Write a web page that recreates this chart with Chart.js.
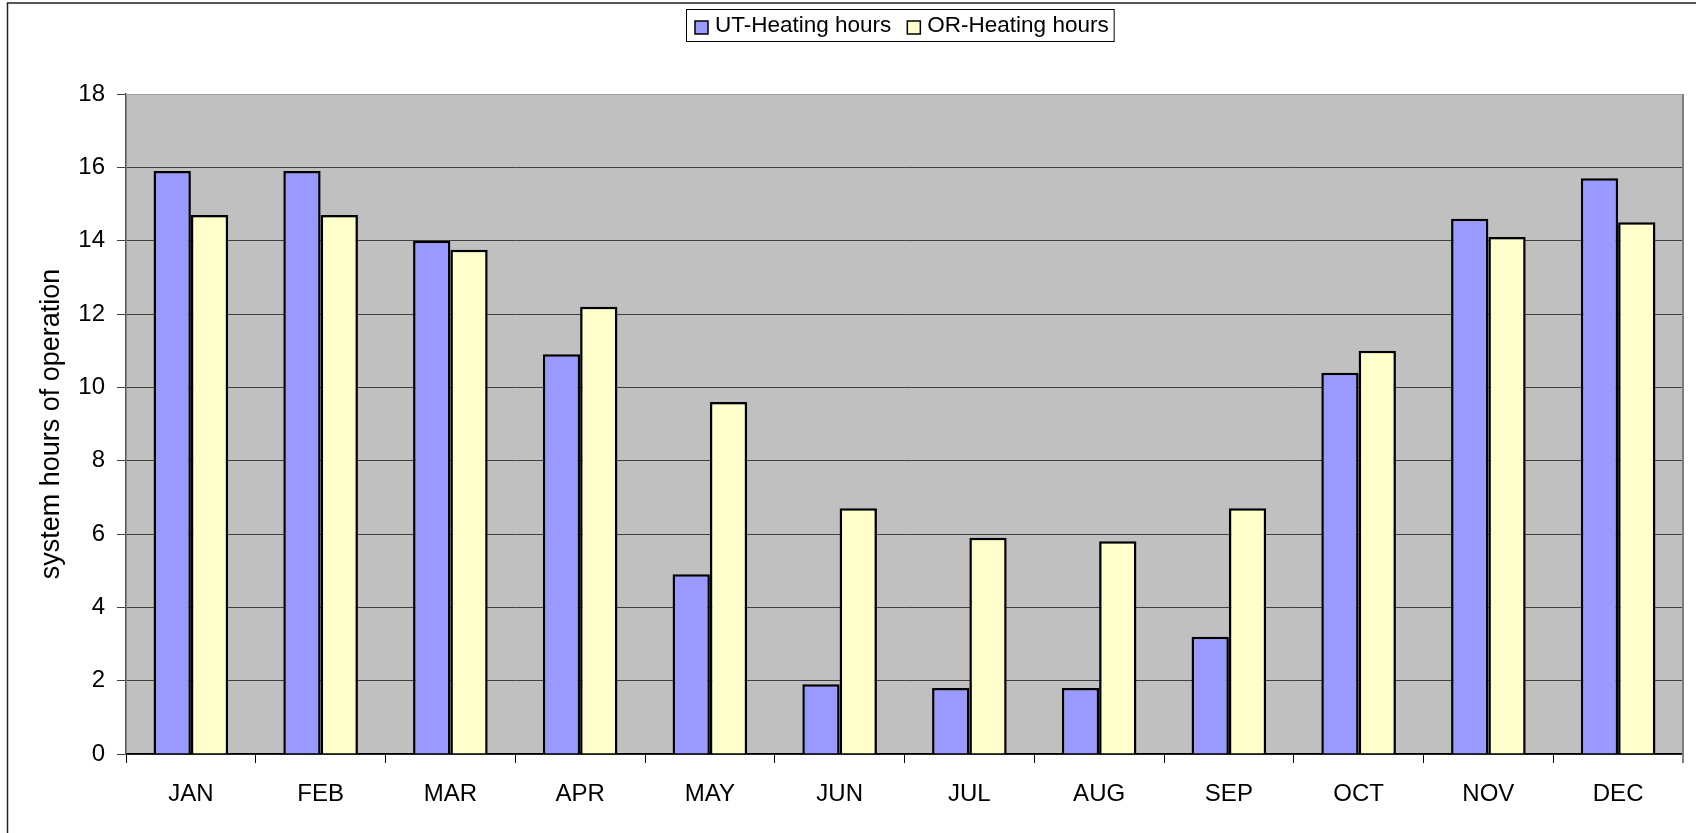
<!DOCTYPE html>
<html>
<head>
<meta charset="utf-8">
<script src="https://cdn.jsdelivr.net/npm/chart.js@4"></script>
<style>
    html, body { margin: 0; padding: 0; background: #fff; }
    #wrap { width: 1696px; height: 833px; position: relative; }
</style>
</head>
<body>
<div id="wrap"><canvas id="barChart"></canvas></div>
<script>
const months = ['JAN', 'FEB', 'MAR', 'APR', 'MAY', 'JUN', 'JUL', 'AUG', 'SEP', 'OCT', 'NOV', 'DEC'];
const utHours = [15.9, 15.9, 14.0, 10.9, 4.9, 1.9, 1.8, 1.8, 3.2, 10.4, 14.6, 15.7];
const orHours = [14.7, 14.7, 13.75, 12.2, 9.6, 6.7, 5.9, 5.8, 6.7, 11.0, 14.1, 14.5];
const seriesLabels = ['UT-Heating hours', 'OR-Heating hours'];
const yTitle = 'system hours of operation';

const FONT = "'Liberation Sans', Arial, sans-serif";

// grey plot background + outer frame + plot border
const backdrop = {
    id: 'backdrop',
    beforeDraw(chart) {
        const { ctx, chartArea: a } = chart;
        ctx.save();
        ctx.fillStyle = '#C0C0C0';
        ctx.fillRect(a.left, a.top, a.right - a.left, a.bottom - a.top);
        ctx.strokeStyle = '#222';
        ctx.lineWidth = 1.5;
        ctx.beginPath();
        ctx.moveTo(7.5, chart.height);
        ctx.lineTo(7.5, 3);
        ctx.lineTo(chart.width, 3);
        ctx.stroke();
        ctx.restore();
    },
    afterDraw(chart) {
        const { ctx, chartArea: a } = chart;
        ctx.save();
        ctx.lineWidth = 1;
        ctx.strokeStyle = '#A0A0A0';
        ctx.beginPath();
        ctx.moveTo(a.left, a.top + 0.5);
        ctx.lineTo(a.right, a.top + 0.5);
        ctx.stroke();
        ctx.lineWidth = 2;
        ctx.strokeStyle = '#808080';
        ctx.beginPath();
        ctx.moveTo(a.right, a.top);
        ctx.lineTo(a.right, a.bottom + 9);
        ctx.stroke();
        ctx.restore();
    }
};

// boxed legend like the original
const boxLegend = {
    id: 'boxLegend',
    afterDraw(chart) {
        const ctx = chart.ctx;
        const left = 686, top = 9, h = 32;
        ctx.save();
        ctx.font = '22.5px ' + FONT;
        ctx.textBaseline = 'middle';
        let x = left + 9;
        const items = [];
        chart.data.datasets.forEach(ds => {
            items.push({ x, ds });
            x += 20 + ctx.measureText(ds.label).width + 16;
        });
        const right = x - 16 + 5;
        ctx.fillStyle = '#fff';
        ctx.fillRect(left, top, right - left, h);
        ctx.strokeStyle = '#000';
        ctx.lineWidth = 1;
        ctx.strokeRect(left + 0.5, top + 0.5, right - left, h);
        items.forEach(it => {
            ctx.fillStyle = it.ds.backgroundColor;
            ctx.fillRect(it.x, top + 12, 13, 13);
            ctx.lineWidth = 1.5;
            ctx.strokeStyle = '#000';
            ctx.strokeRect(it.x, top + 12, 13, 13);
            ctx.fillStyle = '#000';
            ctx.fillText(it.ds.label, it.x + 20, top + h / 2 + 1);
        });
        ctx.restore();
    }
};

const ctx = document.getElementById('barChart').getContext('2d');
new Chart(ctx, {
    type: 'bar',
    data: {
        labels: months,
        datasets: [{
            label: seriesLabels[0],
            data: utHours,
            backgroundColor: '#9999FF',
            borderColor: '#000',
            borderWidth: 2.5
        }, {
            label: seriesLabels[1],
            data: orHours,
            backgroundColor: '#FFFFCC',
            borderColor: '#000',
            borderWidth: 2.5
        }]
    },
    options: {
        responsive: true,
        maintainAspectRatio: false,
        animation: false,
        datasets: {
            bar: { categoryPercentage: 0.575, barPercentage: 1.0 }
        },
        layout: { padding: { top: 94, right: 13, bottom: 0, left: 0 } },
        plugins: {
            legend: { display: false },
            tooltip: { enabled: false }
        },
        scales: {
            x: {
                grid: {
                    offset: true,
                    drawOnChartArea: false,
                    tickLength: 9,
                    color: '#000'
                },
                border: { color: '#000', width: 1.5 },
                ticks: {
                    color: '#000',
                    padding: 17,
                    font: { family: FONT, size: 24 },
                    maxRotation: 0
                },
                afterFit(scale) { scale.height = 79; }
            },
            y: {
                min: 0,
                max: 18,
                ticks: {
                    stepSize: 2,
                    color: '#000',
                    padding: 12,
                    font: { family: FONT, size: 24 }
                },
                grid: {
                    color: '#404040',
                    lineWidth: 1,
                    tickLength: 9
                },
                border: { color: '#555', width: 1.5 },
                title: {
                    display: true,
                    text: yTitle,
                    color: '#000',
                    font: { family: FONT, size: 27 },
                    padding: { top: 35, bottom: 0 }
                },
                afterFit(scale) { scale.width = 126; }
            }
        }
    },
    plugins: [backdrop, boxLegend]
});
</script>
</body>
</html>
